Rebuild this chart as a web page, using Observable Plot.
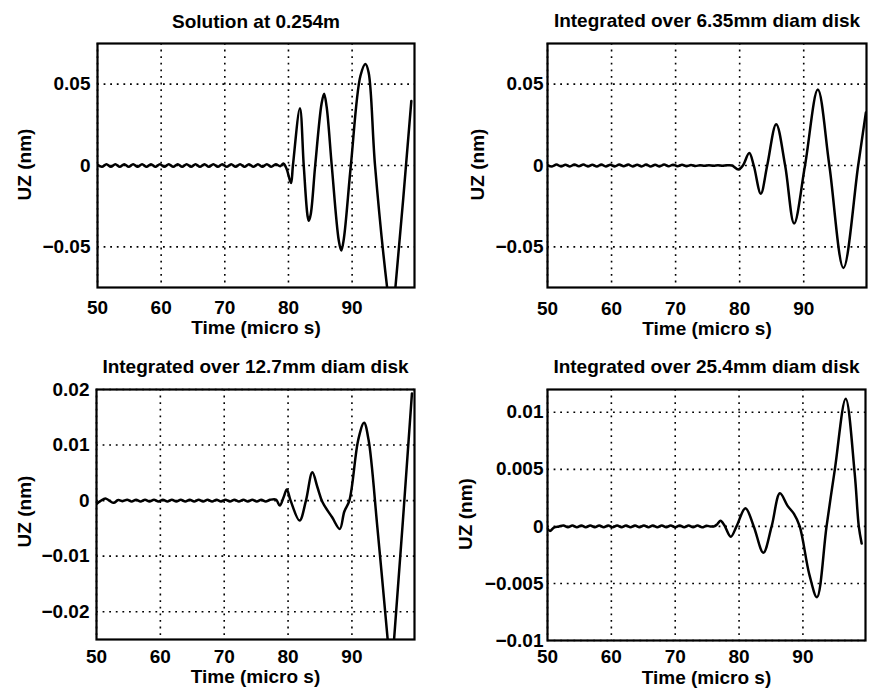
<!DOCTYPE html>
<html>
<head>
<meta charset="utf-8">
<script src="https://cdn.jsdelivr.net/npm/d3@7"></script>
<script src="https://cdn.jsdelivr.net/npm/@observablehq/plot@0.6"></script>
<style>
  html, body { margin: 0; padding: 0; background: #fff; }
  #wrap { position: relative; width: 872px; height: 692px; background: #fff; overflow: hidden; }
  .panel { position: absolute; width: 436px; height: 346px; }
</style>
</head>
<body>
<div id="wrap"></div>
<script>
// ---------- data ----------
const titles = [
  "Solution at 0.254m",
  "Integrated over 6.35mm diam disk",
  "Integrated over 12.7mm diam disk",
  "Integrated over 25.4mm diam disk"
];
const xLabel = "Time (micro s)";
const yLabel = "UZ (nm)";
const xTicks = [50, 60, 70, 80, 90];
const yTicksTop = [-0.05, 0, 0.05];
const yTicks127 = [-0.02, -0.01, 0, 0.01, 0.02];
const yTicks254 = [-0.01, -0.005, 0, 0.005, 0.01];

// [time (micro s), UZ (nm)]
const uzPoint = [
  [50.0,0.0004],[50.7,-0.0008],[51.4,0.0008],[52.1,-0.0008],[52.8,0.0007],[53.5,-0.0008],[54.2,0.0008],
  [54.9,-0.0007],[55.6,0.0008],[56.3,-0.0008],[57.0,0.0007],[57.7,-0.0008],[58.4,0.0008],[59.1,-0.0008],
  [59.8,0.0007],[60.5,-0.0008],[61.2,0.0008],[61.9,-0.0007],[62.6,0.0008],[63.3,-0.0008],[64.0,0.0007],
  [64.7,-0.0008],[65.4,0.0008],[66.1,-0.0008],[66.8,0.0007],[67.5,-0.0008],[68.2,0.0008],[68.9,-0.0007],
  [69.6,0.0008],[70.3,-0.0008],[71.0,0.0007],[71.7,-0.0008],[72.4,0.0008],[73.1,-0.0008],[73.8,0.0007],
  [74.5,-0.0008],[75.2,0.0008],[75.9,-0.0007],[76.6,0.0008],[77.3,-0.0008],[78.0,0.0007],[78.7,-0.0004],
  [79.2,0.0012],[79.7,-0.002],[80.4,-0.0108],[80.7,0.0],[81.8,0.0352],[82.4,0.0],[83.0,-0.031],
  [83.2,-0.034],[83.5,-0.030],[84.2,0.0],[85.2,0.038],[85.6,0.0441],[86.0,0.036],[86.8,0.0],
  [87.9,-0.046],[88.3,-0.0523],[88.7,-0.045],[89.8,0.0],[91.3,0.055],[92.1,0.0624],[92.6,0.057],
  [93.6,0.0],[95.5,-0.075],[96.2,-0.095],[96.8,-0.075],[99.3,0.0396]
];
const uzDisk635 = [
  [50.0,0.0003],[50.7,-0.0006],[51.4,0.0006],[52.1,-0.0006],[52.8,0.0005],[53.5,-0.0006],[54.2,0.0006],
  [54.9,-0.0005],[55.6,0.0006],[56.3,-0.0006],[57.0,0.0005],[57.7,-0.0006],[58.4,0.0006],[59.1,-0.0006],
  [59.8,0.0005],[60.5,-0.0006],[61.2,0.0006],[61.9,-0.0005],[62.6,0.0006],[63.3,-0.0006],[64.0,0.0005],
  [64.7,-0.0006],[65.4,0.0006],[66.1,-0.0006],[66.8,0.0005],[67.5,-0.0006],[68.2,0.0006],[68.9,-0.0005],
  [69.6,0.0005],[70.3,-0.0004],[71.0,0.0004],[71.7,-0.0004],[72.4,0.0003],[73.1,-0.0003],[73.8,0.0002],
  [74.5,-0.0002],[75.2,0.0002],[75.9,-0.0002],[76.6,0.0001],[77.3,-0.0001],[78.0,0.0001],
  [78.8,0.0],[79.8,-0.0024],[80.5,0.0],[81.5,0.0077],[82.2,0.0],[83.3,-0.0173],[84.3,0.0],
  [85.7,0.0254],[87.1,0.0],[88.5,-0.0356],[90.2,0.0],[92.2,0.0467],[94.0,0.0],[96.2,-0.063],
  [98.5,0.0],[99.7,0.0325]
];
const uzDisk127 = [
  [50.0,-0.0006],[50.6,-0.0001],[51.4,0.0004],[52.0,0.0],[52.7,-0.0004],[53.4,0.0001],
  [54.1,-0.0001],[54.8,0.00015],[55.5,-0.00015],[56.2,0.00015],[56.9,-0.00015],[57.6,0.00015],
  [58.3,-0.00015],[59.0,0.00015],[59.7,-0.00015],[60.4,0.00015],[61.1,-0.00015],[61.8,0.00015],
  [62.5,-0.00015],[63.2,0.00015],[63.9,-0.00015],[64.6,0.00015],[65.3,-0.00015],[66.0,0.00015],
  [66.7,-0.00015],[67.4,0.00015],[68.1,-0.00015],[68.8,0.00015],[69.5,-0.00015],[70.2,0.00015],
  [70.9,-0.00015],[71.6,0.00015],[72.3,-0.00015],[73.0,0.00015],[73.7,-0.00015],[74.4,0.00015],
  [75.1,-0.00015],[75.8,0.00015],[76.5,-0.00015],[77.2,0.00015],
  [78.1,0.0002],[78.7,-0.0009],[79.3,0.0006],[79.8,0.002],[80.4,0.0],[81.8,-0.0036],[82.8,0.0],
  [83.8,0.0051],[84.6,0.0024],[85.4,-0.0003],[86.9,-0.003],[88.1,-0.0051],[88.8,-0.002],
  [89.6,0.0],[91.0,0.011],[91.9,0.014],[92.6,0.011],[94.0,-0.005],[95.6,-0.025],[96.1,-0.031],
  [96.6,-0.025],[99.4,0.0193]
];
const uzDisk254 = [
  [50.0,-0.0002],[50.4,-0.0004],[51.0,-0.0001],[51.8,0.0],
  [52.5,0.00008],[53.2,-0.00008],[53.9,0.00008],[54.6,-0.00008],[55.3,0.00008],[56.0,-0.00008],
  [56.7,0.00008],[57.4,-0.00008],[58.1,0.00008],[58.8,-0.00008],[59.5,0.00008],[60.2,-0.00008],
  [60.9,0.00008],[61.6,-0.00008],[62.3,0.00008],[63.0,-0.00008],[63.7,0.00008],[64.4,-0.00008],
  [65.1,0.00008],[65.8,-0.00008],[66.5,0.00008],[67.2,-0.00008],[67.9,0.00008],[68.6,-0.00008],
  [69.3,0.00008],[70.0,-0.00008],[70.7,0.00008],[71.4,-0.00008],[72.1,0.00008],[72.8,-0.00008],
  [73.5,0.00008],[74.2,-0.00008],[74.9,0.00005],[75.5,0.0],
  [76.1,0.0],[76.6,0.0002],[77.1,0.0005],[77.7,0.0001],[78.7,-0.0009],[79.6,0.0],[81.0,0.0016],
  [82.3,0.0],[83.8,-0.0023],[85.1,0.0],[86.4,0.0029],[87.6,0.0018],[88.6,0.0011],[89.5,0.0],
  [91.0,-0.0042],[92.2,-0.0062],[93.7,0.0],[95.0,0.005],[96.7,0.0112],[98.1,0.0047],[98.75,0.0],
  [99.2,-0.0015]
];

// ---------- layout ----------
const FONT = "'Liberation Sans', Arial, Helvetica, sans-serif";
const fmt = d => d === 0 ? "0" : (d < 0 ? "\u2212" : "") + String(Math.abs(d));

const panels = [
  {data: uzPoint,   title: titles[0], yDomain: [-0.075, 0.075], yTicks: yTicksTop, left: 0,   top: 0,
   m: [43, 22, 59, 97],  xPad: 13,   yPad: 7, titleDy: -22, xLabDy: 40.5, yLabDx: -73, yLabDy: -1},
  {data: uzDisk635, title: titles[1], yDomain: [-0.075, 0.075], yTicks: yTicksTop, left: 436, top: 0,
   m: [43, 6, 59, 111],  xPad: 13.5, yPad: 4, titleDy: -22.5, xLabDy: 41.5, yLabDx: -70, yLabDy: -1},
  {data: uzDisk127, title: titles[2], yDomain: [-0.025, 0.02],  yTicks: yTicks127, left: 0,   top: 346,
   m: [43, 22, 53, 96],  xPad: 10,   yPad: 7, titleDy: -22.5, xLabDy: 37.5, yLabDx: -72, yLabDy: -3},
  {data: uzDisk254, title: titles[3], yDomain: [-0.01, 0.012],  yTicks: yTicks254, left: 436, top: 346,
   m: [43, 7, 52, 111],  xPad: 9,    yPad: 4, titleDy: -22.5, xLabDy: 37.5, yLabDx: -81.5, yLabDy: -1}
];

const wrap = document.getElementById("wrap");
for (const p of panels) {
  const rows = p.data.map(([t, v]) => ({t, v}));
  const gridStyle = {stroke: "black", strokeOpacity: 1, strokeWidth: 1.6, strokeDasharray: "1.8,4.8"};
  const txt = {fontSize: 19, fontWeight: "bold", fill: "black", textAnchor: "middle", lineAnchor: "middle"};
  const chart = Plot.plot({
    width: 436,
    height: 346,
    marginTop: p.m[0], marginRight: p.m[1], marginBottom: p.m[2], marginLeft: p.m[3],
    style: {fontFamily: FONT, fontSize: "19px", fontWeight: "bold", color: "black", background: "white", overflow: "visible"},
    x: {domain: [50, 99.8]},
    y: {domain: p.yDomain},
    marks: [
      Plot.gridX(xTicks, gridStyle),
      Plot.gridY(p.yTicks, gridStyle),
      Plot.axisX(xTicks, {tickSize: 0, tickPadding: p.xPad, label: null, tickFormat: d => String(d), fontSize: 19, fontWeight: "bold", fill: "black"}),
      Plot.axisY(p.yTicks, {tickSize: 0, tickPadding: p.yPad, label: null, tickFormat: fmt, fontSize: 19, fontWeight: "bold", fill: "black"}),
      Plot.line(rows, {x: "t", y: "v", stroke: "black", strokeWidth: 2.5, curve: "catmull-rom", clip: true, strokeLinejoin: "round"}),
      Plot.frame({stroke: "black", strokeWidth: 2.2}),
      Plot.text([p.title], {...txt, text: d => d, frameAnchor: "top", dy: p.titleDy}),
      Plot.text([xLabel], {...txt, text: d => d, frameAnchor: "bottom", dy: p.xLabDy}),
      Plot.text([yLabel], {...txt, text: d => d, frameAnchor: "left", dx: p.yLabDx, dy: p.yLabDy, rotate: -90})
    ]
  });
  const div = document.createElement("div");
  div.className = "panel";
  div.style.left = p.left + "px";
  div.style.top = p.top + "px";
  div.appendChild(chart);
  wrap.appendChild(div);
}
</script>
</body>
</html>
